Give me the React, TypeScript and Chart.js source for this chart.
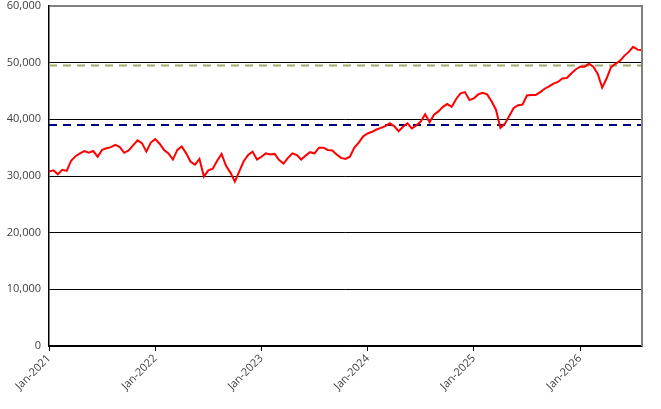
import { Chart, registerables } from "chart.js";
import { useEffect, useRef } from "react";

Chart.register(...registerables);

// one value every half month, starting Jan-2021
const stepMonths = 0.5;
const seriesValues = [
    30800, 31000, 30300, 31100, 30900, 32700, 33500, 34000, 34400, 34100,
    34400, 33400, 34600, 34900, 35100, 35500, 35100, 34100, 34500, 35400,
    36300, 35800, 34300, 35900, 36500, 35700, 34600, 34000, 32900, 34600,
    35200, 34000, 32500, 32000, 33000, 29900, 31000, 31300, 32700, 33900,
    31800, 30600, 29000, 30800, 32600, 33700, 34300, 32900, 33400, 34000,
    33800, 33900, 32800, 32200, 33200, 34000, 33700, 32900, 33600, 34200,
    34000, 35000, 35000, 34600, 34500, 33800, 33200, 33000, 33400, 35000,
    35900, 37000, 37500, 37800, 38200, 38500, 38800, 39300, 38800, 37900,
    38700, 39300, 38400, 38900, 39600, 40900, 39500, 40800, 41400, 42200,
    42700, 42200, 43600, 44600, 44800, 43400, 43700, 44400, 44700, 44400,
    43200, 41700, 38500, 39200, 40600, 42000, 42500, 42600, 44200, 44300,
    44300, 44800, 45400, 45800, 46300, 46600, 47200, 47300, 48100, 48800,
    49300, 49300, 49800, 49300, 48000, 45600, 47200, 49200, 49800, 50300,
    51200, 51900, 52800, 52300, 52200,
];

const upperLevel = 49500;
const lowerLevel = 39000;

const xTickLabels = ["Jan-2021", "Jan-2022", "Jan-2023", "Jan-2024", "Jan-2025", "Jan-2026"];
const xMaxMonths = 67;

const yMin = 0;
const yMax = 60000;
const yStep = 10000;

// bordure droite grise du cadre
const rightFrame = {
    id: "rightFrame",
    afterDatasetsDraw(chart: Chart) {
        const { ctx, chartArea } = chart;
        ctx.save();
        ctx.strokeStyle = "#808080";
        ctx.lineWidth = 2;
        ctx.beginPath();
        ctx.moveTo(chartArea.right, chartArea.top - 1);
        ctx.lineTo(chartArea.right, chartArea.bottom);
        ctx.stroke();
        ctx.restore();
    },
};

export default function App() {
    const canvasRef = useRef<HTMLCanvasElement | null>(null);
    const chartRef = useRef<Chart | null>(null);

    useEffect(() => {
        document.body.style.margin = "0";
        const ctx = canvasRef.current?.getContext("2d");
        if (chartRef.current) {
            chartRef.current.destroy();
        }

        const points = seriesValues.map((v, i) => ({ x: i * stepMonths, y: v }));
        const lastX = (seriesValues.length - 1) * stepMonths;

        chartRef.current = new Chart(ctx!, {
            type: "line",
            data: {
                datasets: [
                    {
                        label: "Index",
                        data: points,
                        borderColor: "#ff0000",
                        borderWidth: 2,
                        pointRadius: 0,
                        tension: 0,
                        order: 0,
                    },
                    {
                        label: "Upper",
                        data: [
                            { x: 0, y: upperLevel },
                            { x: lastX, y: upperLevel },
                        ],
                        borderColor: "#9fae6c",
                        borderWidth: 2,
                        borderDash: [8, 6],
                        pointRadius: 0,
                        order: 1,
                    },
                    {
                        label: "Lower",
                        data: [
                            { x: 0, y: lowerLevel },
                            { x: lastX, y: lowerLevel },
                        ],
                        borderColor: "#000080",
                        borderWidth: 2,
                        borderDash: [8, 6],
                        pointRadius: 0,
                        order: 1,
                    },
                ],
            },
            options: {
                animation: false,
                responsive: true,
                maintainAspectRatio: false,
                layout: { padding: { top: 6, right: 19, left: 0, bottom: 0 } },
                plugins: {
                    legend: { display: false },
                    tooltip: { enabled: false },
                },
                scales: {
                    x: {
                        type: "linear",
                        min: 0,
                        max: xMaxMonths,
                        afterBuildTicks: (scale: any) => {
                            scale.ticks = xTickLabels.map((_, i) => ({ value: i * 12 }));
                        },
                        afterFit: (scale: any) => {
                            scale.height = 63;
                            scale.paddingLeft = 0;
                            scale.paddingRight = 0;
                        },
                        ticks: {
                            minRotation: 45,
                            maxRotation: 45,
                            autoSkip: false,
                            padding: 1,
                            color: "#404040",
                            font: { family: "'Open Sans', sans-serif", size: 11 },
                            callback: (value: any) => xTickLabels[Math.round(Number(value) / 12)] ?? "",
                        },
                        grid: {
                            drawOnChartArea: false,
                            drawTicks: true,
                            tickLength: 5,
                            color: "#000000",
                        },
                        border: { color: "#000000", width: 1.5 },
                    },
                    y: {
                        min: yMin,
                        max: yMax,
                        afterFit: (scale: any) => {
                            scale.width = 49;
                            scale.paddingTop = 0;
                            scale.paddingBottom = 0;
                        },
                        ticks: {
                            stepSize: yStep,
                            padding: 8,
                            color: "#404040",
                            font: { family: "'Open Sans', sans-serif", size: 11 },
                            callback: (value: any) => Number(value).toLocaleString("en-US"),
                        },
                        grid: {
                            drawTicks: false,
                            color: (c: any) => (c.tick && c.tick.value === yMax ? "#808080" : "#000000"),
                            lineWidth: (c: any) => (c.tick && c.tick.value === yMax ? 2 : 1),
                        },
                        border: { color: "#000000", width: 1.5 },
                    },
                },
            },
            plugins: [rightFrame],
        });

        return () => {
            if (chartRef.current) {
                chartRef.current.destroy();
                chartRef.current = null;
            }
        };
    }, []);

    return (
        <div style={{ width: "661px", height: "409px", position: "relative" }}>
            <canvas ref={canvasRef} />
        </div>
    );
}
